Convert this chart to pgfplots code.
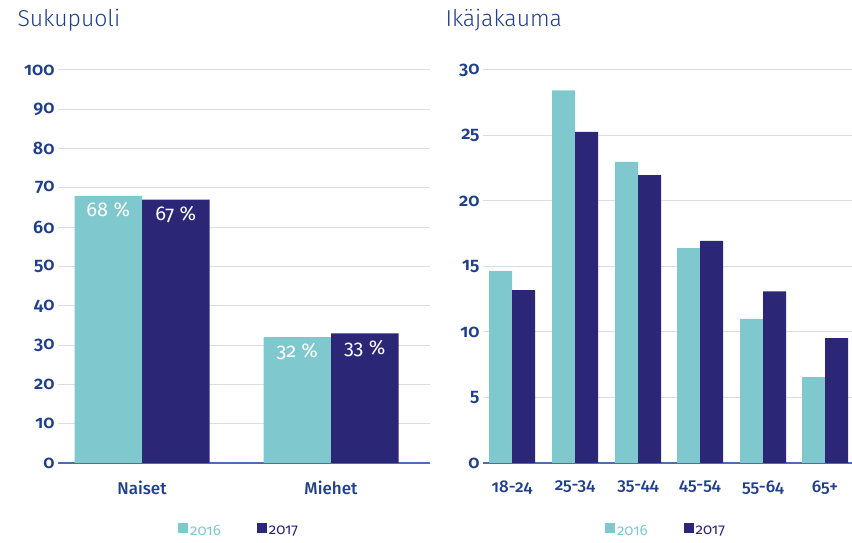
\documentclass[border=0pt]{standalone}
\usepackage{fontspec}
\setmainfont{Fira Sans}[Numbers=OldStyle]
\newfontfamily\medfont{Fira Sans Medium}[Numbers=OldStyle]
\newfontfamily\semifont{Fira Sans SemiBold}[Numbers=OldStyle]
\newfontfamily\lightfont{Fira Sans Light}
\usepackage{pgfplots}
\pgfplotsset{compat=1.18}
\definecolor{teal16}{HTML}{7FC9CE}
\definecolor{navy17}{HTML}{2B2676}
\definecolor{txtblue}{HTML}{1F3E8C}
\definecolor{gridgray}{HTML}{DDDDDD}
\definecolor{axblue}{HTML}{4B6EB1}
\pgfplotsset{mybar/.style={
  scale only axis, ybar=0pt, ymin=0,
  axis x line*=bottom, axis y line*=left,
  y axis line style={draw=none},
  x axis line style={axblue, line width=1.2pt},
  xtick style={draw=none}, ytick style={draw=none},
  ymajorgrids, major grid style={gridgray, line width=1pt},
  /pgf/number format/assume math mode=true,
  yticklabel style={font=\semifont\fontsize{18}{18}\selectfont, text=txtblue},
  xticklabel style={font=\medfont\fontsize{17}{17}\selectfont, text=txtblue, yshift=-10pt},
  legend style={draw=none, fill=none, inner sep=0pt, legend columns=2,
    font=\fontsize{15}{15}\selectfont,
    /tikz/every even column/.append style={column sep=34pt}},
  legend cell align=left,
}}
\begin{document}
\begin{tikzpicture}
\useasboundingbox (0,0) rectangle (852pt,543pt);
\node[anchor=base west, font=\lightfont\fontsize{23}{23}\selectfont, text=txtblue] at (14pt,516pt) {Sukupuoli};
\node[anchor=base west, font=\lightfont\fontsize{23}{23}\selectfont, text=txtblue] at (442pt,516pt) {Ikäjakauma};
\begin{axis}[mybar, at={(58pt,80pt)}, anchor=south west,
  width=372pt, height=393pt, xmin=58, xmax=430, ymax=100,
  ytick={0,10,...,100}, bar width=67.5pt,
  xtick={142,331}, xticklabels={Naiset,Miehet},
  nodes near coords={\pgfmathprintnumber{\pgfplotspointmeta}~\%},
  every node near coord/.append style={text=white, anchor=north, yshift=-3pt, font=\fontsize{20}{20}\selectfont},
  legend style={at={(0.487,-0.173)}, anchor=center}]
\addplot[fill=teal16, draw=none, legend image code/.code={\fill[teal16] (0pt,-2pt) rectangle (10pt,8pt);}] coordinates {(142,68) (331,32)};
\addlegendentry{\textcolor{teal16}{2016}}
\addplot[fill=navy17, draw=none, legend image code/.code={\fill[navy17] (0pt,-2pt) rectangle (10pt,8pt);}] coordinates {(142,67) (331,33)};
\addlegendentry{\textcolor{navy17}{2017}}
\end{axis}
\begin{axis}[mybar, at={(483pt,80pt)}, anchor=south west,
  width=369pt, height=393pt, xmin=483, xmax=852, ymax=30,
  ytick={0,5,...,30}, bar width=23pt,
  xtick={512,575,638,700,763,825}, xticklabels={18-24,25-34,35-44,45-54,55-64,65+},
  legend style={at={(0.496,-0.173)}, anchor=center}]
\addplot[fill=teal16, draw=none, legend image code/.code={\fill[teal16] (0pt,-2pt) rectangle (10pt,8pt);}] coordinates {(512,14.65) (575,28.45) (638,22.98) (700,16.4) (763,11.0) (825,6.56)};
\addlegendentry{\textcolor{teal16}{2016}}
\addplot[fill=navy17, draw=none, legend image code/.code={\fill[navy17] (0pt,-2pt) rectangle (10pt,8pt);}] coordinates {(512,13.2) (575,25.27) (638,21.98) (700,16.95) (763,13.1) (825,9.54)};
\addlegendentry{\textcolor{navy17}{2017}}
\end{axis}
\end{tikzpicture}
\end{document}
